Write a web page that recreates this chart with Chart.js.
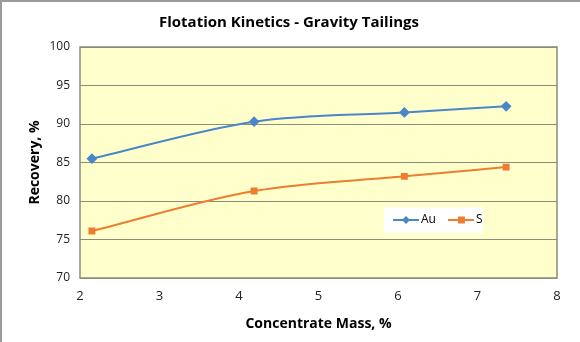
<!DOCTYPE html>
<html lang="en">

<head>
    <meta charset="UTF-8">
    <title>Flotation Kinetics - Gravity Tailings</title>
    <script src="https://cdn.jsdelivr.net/npm/chart.js"></script>
    <style>
        html, body {
            margin: 0;
            padding: 0;
            background-color: #ffffff;
        }

        .chart-box {
            width: 580px;
            height: 342px;
        }
    </style>
</head>

<body>

    <div class="chart-box">
        <canvas id="kineticsChart" width="580" height="342"></canvas>
    </div>

    <script>
        // data
        const massAu = [2.15, 4.19, 6.08, 7.36];
        const recoveryAu = [85.5, 90.3, 91.5, 92.3];
        const massS = [2.15, 4.19, 6.08, 7.36];
        const recoveryS = [76.1, 81.3, 83.2, 84.4];
        const xTicks = [2, 3, 4, 5, 6, 7, 8];
        const yTicks = [70, 75, 80, 85, 90, 95, 100];

        const FONT = "'Open Sans', 'Liberation Sans', sans-serif";

        function toPoints(xs, ys) {
            return xs.map((x, i) => ({ x: x, y: ys[i] }));
        }

        // yellow plot background, outer frame and the title
        const backdrop = {
            id: 'backdrop',
            beforeDraw(chart) {
                const { ctx, chartArea } = chart;
                ctx.save();
                ctx.fillStyle = '#ffffcc';
                ctx.fillRect(chartArea.left, chartArea.top,
                    chartArea.right - chartArea.left, chartArea.bottom - chartArea.top);

                ctx.strokeStyle = '#9a9a9a';
                ctx.lineWidth = 2;
                ctx.beginPath();
                ctx.moveTo(1, 342);
                ctx.lineTo(1, 1);
                ctx.lineTo(580, 1);
                ctx.stroke();

                ctx.fillStyle = '#000000';
                ctx.font = 'bold 15px ' + FONT;
                ctx.textAlign = 'center';
                ctx.textBaseline = 'middle';
                ctx.fillText('Flotation Kinetics - Gravity Tailings', 289, 23);
                ctx.restore();
            },
            afterDatasetsDraw(chart) {
                // plot frame
                const { ctx, chartArea } = chart;
                ctx.save();
                ctx.strokeStyle = '#8c8c7a';
                ctx.lineWidth = 1.5;
                ctx.strokeRect(chartArea.left, chartArea.top,
                    chartArea.right - chartArea.left, chartArea.bottom - chartArea.top);
                ctx.restore();
            }
        };

        // legend box sitting inside the plot
        const innerLegend = {
            id: 'innerLegend',
            afterDraw(chart) {
                const ctx = chart.ctx;
                const x0 = 384, y0 = 207, w = 99, h = 26;
                ctx.save();
                ctx.fillStyle = '#ffffff';
                ctx.fillRect(x0, y0, w, h);
                ctx.font = '12px ' + FONT;
                ctx.textBaseline = 'middle';
                let x = x0 + 9;
                const y = y0 + h / 2;
                chart.data.datasets.forEach(ds => {
                    ctx.strokeStyle = ds.borderColor;
                    ctx.lineWidth = 2;
                    ctx.beginPath();
                    ctx.moveTo(x, y);
                    ctx.lineTo(x + 26, y);
                    ctx.stroke();
                    ctx.fillStyle = ds.backgroundColor;
                    if (ds.pointStyle === 'rect') {
                        ctx.fillRect(x + 10, y - 3.5, 7, 7);
                    } else {
                        ctx.beginPath();
                        ctx.moveTo(x + 13, y - 4);
                        ctx.lineTo(x + 17, y);
                        ctx.lineTo(x + 13, y + 4);
                        ctx.lineTo(x + 9, y);
                        ctx.closePath();
                        ctx.fill();
                    }
                    ctx.fillStyle = '#000000';
                    ctx.fillText(ds.label, x + 28, y);
                    x += 28 + ctx.measureText(ds.label).width + 12;
                });
                ctx.restore();
            }
        };

        new Chart(document.getElementById('kineticsChart'), {
            type: 'scatter',
            data: {
                datasets: [{
                    label: 'Au',
                    data: toPoints(massAu, recoveryAu),
                    showLine: true,
                    borderColor: '#4a86c8',
                    backgroundColor: '#4a86c8',
                    borderWidth: 2,
                    pointStyle: 'rectRot',
                    pointRadius: 4,
                    cubicInterpolationMode: 'monotone'
                }, {
                    label: 'S',
                    data: toPoints(massS, recoveryS),
                    showLine: true,
                    borderColor: '#ed7d31',
                    backgroundColor: '#ed7d31',
                    borderWidth: 2,
                    pointStyle: 'rect',
                    pointRadius: 3.5,
                    cubicInterpolationMode: 'monotone'
                }]
            },
            options: {
                responsive: false,
                animation: false,
                layout: {
                    padding: { top: 47, right: 23, bottom: 0, left: 0 }
                },
                plugins: {
                    legend: { display: false },
                    title: { display: false },
                    tooltip: { enabled: false }
                },
                scales: {
                    x: {
                        type: 'linear',
                        min: 2,
                        max: 8,
                        afterBuildTicks: axis => { axis.ticks = xTicks.map(v => ({ value: v })); },
                        afterFit: axis => { axis.height = 64; },
                        grid: { display: false, drawTicks: false },
                        border: { display: false },
                        ticks: {
                            padding: 10,
                            color: '#222222',
                            font: { family: FONT, size: 13 }
                        },
                        title: {
                            display: true,
                            text: 'Concentrate Mass, %',
                            color: '#000000',
                            font: { family: FONT, size: 14, weight: 'bold' },
                            padding: { top: 4, bottom: 10 }
                        }
                    },
                    y: {
                        min: 70,
                        max: 100,
                        afterBuildTicks: axis => { axis.ticks = yTicks.map(v => ({ value: v })); },
                        afterFit: axis => { axis.width = 80; },
                        grid: { color: '#8c8c7a', lineWidth: 1, drawTicks: false },
                        border: { display: false },
                        ticks: {
                            padding: 10,
                            color: '#222222',
                            font: { family: FONT, size: 12 }
                        },
                        title: {
                            display: true,
                            text: 'Recovery, %',
                            color: '#000000',
                            font: { family: FONT, size: 14, weight: 'bold' },
                            padding: { top: 27, bottom: 0 }
                        }
                    }
                }
            },
            plugins: [backdrop, innerLegend]
        });
    </script>

</body>

</html>
